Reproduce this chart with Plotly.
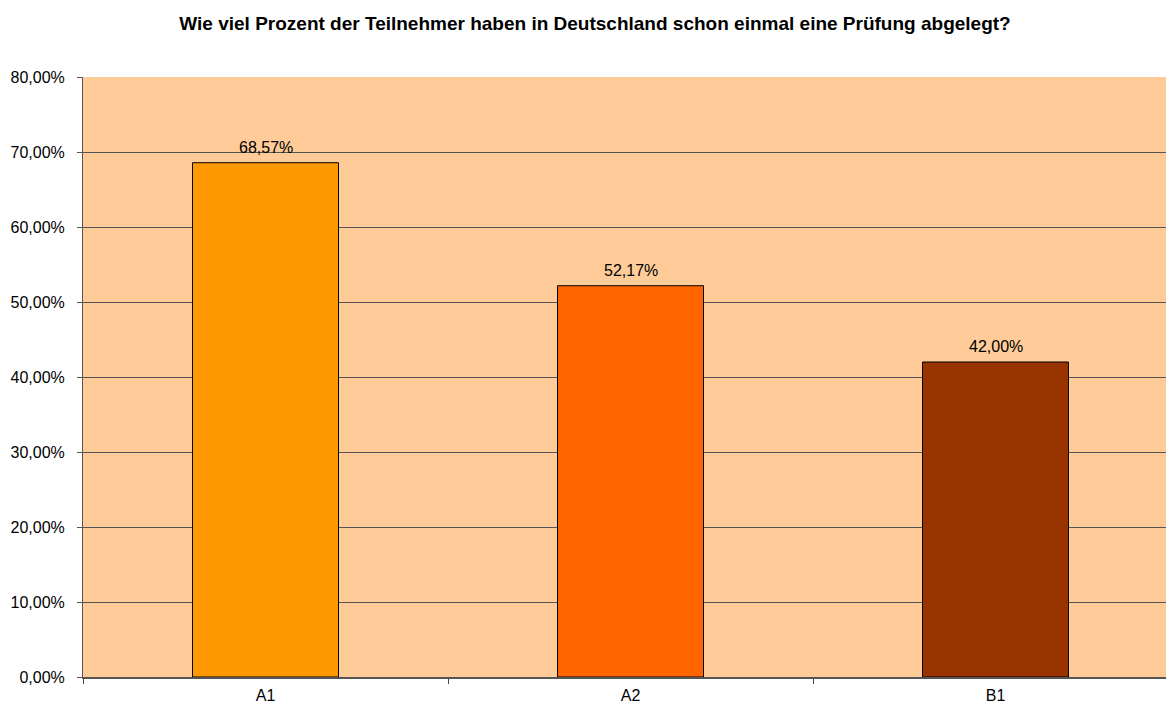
import plotly.graph_objects as go

categories = ["A1", "A2", "B1"]
values = [0.6857, 0.5217, 0.42]
bar_colors = ["#FF9900", "#FF6600", "#993300"]
title_text = "Wie viel Prozent der Teilnehmer haben in Deutschland schon einmal eine Prüfung abgelegt?"

fig = go.Figure()
fig.add_trace(go.Bar(
    x=categories, y=values,
    marker=dict(color=bar_colors, line=dict(color="#000000", width=1)),
    width=0.4,
    hoverinfo="skip",
))

for c, v in zip(categories, values):
    fig.add_annotation(
        x=c, y=v, text=f"{v*100:.2f}%".replace(".", ","),
        showarrow=False, yanchor="bottom", yshift=5,
        font=dict(family="Liberation Sans, Arial", size=16, color="#000000"),
    )

fig.update_layout(
    width=1174, height=709,
    margin=dict(l=75, r=4, t=69, b=40),
    paper_bgcolor="#FFFFFF",
    plot_bgcolor="#FFCC99",
    separators=",.",
    showlegend=False,
    title=dict(
        text=title_text, x=0.5, xanchor="center", y=0.979, yanchor="middle",
        font=dict(family="Liberation Sans, Arial", size=19, color="#000000", weight="bold"),
    ),
    font=dict(family="Liberation Sans, Arial", size=16, color="#000000"),
)

fig.update_xaxes(
    type="category",
    range=[-0.5, 2.5],
    tickson="boundaries",
    ticks="outside", ticklen=5, tickcolor="#444444",
    showgrid=False,
    showline=True, linecolor="#555555", linewidth=2,
    tickfont=dict(size=16),
    ticklabelstandoff=3,
)
fig.update_yaxes(
    range=[0, 0.8],
    tickvals=[0, 0.1, 0.2, 0.3, 0.4, 0.5, 0.6, 0.7, 0.8],
    tickformat=".2%",
    ticks="outside", ticklen=5, tickcolor="#555555",
    showgrid=True, gridcolor="#555555", gridwidth=1,
    showline=True, linecolor="#555555", linewidth=1,
    zeroline=False,
    tickfont=dict(size=16),
    ticklabelstandoff=9,
)

fig.write_html("out.html")
